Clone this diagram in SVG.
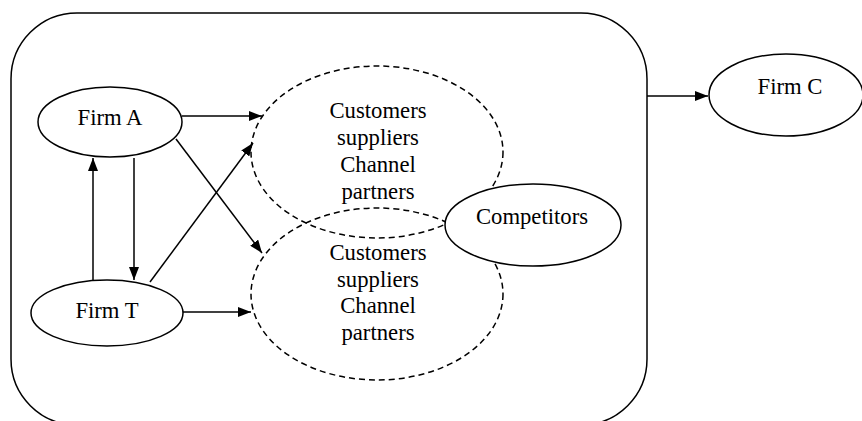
<svg xmlns="http://www.w3.org/2000/svg" width="862" height="421" viewBox="0 0 862 421">
<defs>
<marker id="ah" viewBox="0 0 13 10" refX="13" refY="5" markerWidth="13" markerHeight="10" markerUnits="userSpaceOnUse" orient="auto">
<path d="M0,0 L13,5 L0,10 Z" fill="#000"/>
</marker>
<style>
.n{fill:#fff;stroke:#000;stroke-width:1.5}
.d{fill:none;stroke:#000;stroke-width:1.5;stroke-dasharray:6 4}
.c{fill:none;stroke:#000;stroke-width:1.5;marker-end:url(#ah)}
text{font-family:"Liberation Serif","Times New Roman",serif;font-size:22.7px;fill:#000;text-anchor:middle}
</style>
</defs>
<rect width="862" height="421" fill="#fff"/>
<g id="boundary"><rect x="11" y="13" width="636" height="412" rx="66" ry="66" fill="none" stroke="#000" stroke-width="1.5"/></g>
<g id="upper-group">
<ellipse class="d" cx="377" cy="152" rx="126" ry="86"/>
<text x="378" y="118">Customers</text>
<text x="378" y="145">suppliers</text>
<text x="378" y="172">Channel</text>
<text x="378" y="199">partners</text>
</g>
<g id="lower-group">
<ellipse class="d" cx="377" cy="294" rx="126" ry="86"/>
<text x="378" y="260">Customers</text>
<text x="378" y="287">suppliers</text>
<text x="378" y="313">Channel</text>
<text x="378" y="340">partners</text>
</g>
<g id="connectors">
<line class="c" x1="182" y1="116" x2="262" y2="116"/>
<line class="c" x1="176" y1="139" x2="262" y2="253"/>
<line class="c" x1="150" y1="282" x2="253" y2="143"/>
<line class="c" x1="182" y1="312" x2="251" y2="312"/>
<line class="c" x1="134" y1="158" x2="134" y2="280"/>
<line class="c" x1="93" y1="281" x2="93" y2="158"/>
<line class="c" x1="647" y1="96" x2="708" y2="96"/>
</g>
<g id="firm-a">
<ellipse class="n" cx="110" cy="122" rx="72" ry="35"/>
<text x="110" y="125">Firm A</text>
</g>
<g id="firm-t">
<ellipse class="n" cx="107" cy="313" rx="76" ry="33"/>
<text x="107" y="318">Firm T</text>
</g>
<g id="competitors">
<ellipse class="n" cx="533" cy="225" rx="88" ry="41"/>
<text x="532" y="224">Competitors</text>
</g>
<g id="firm-c">
<ellipse class="n" cx="786" cy="95" rx="77" ry="41"/>
<text x="790" y="94">Firm C</text>
</g>
</svg>
